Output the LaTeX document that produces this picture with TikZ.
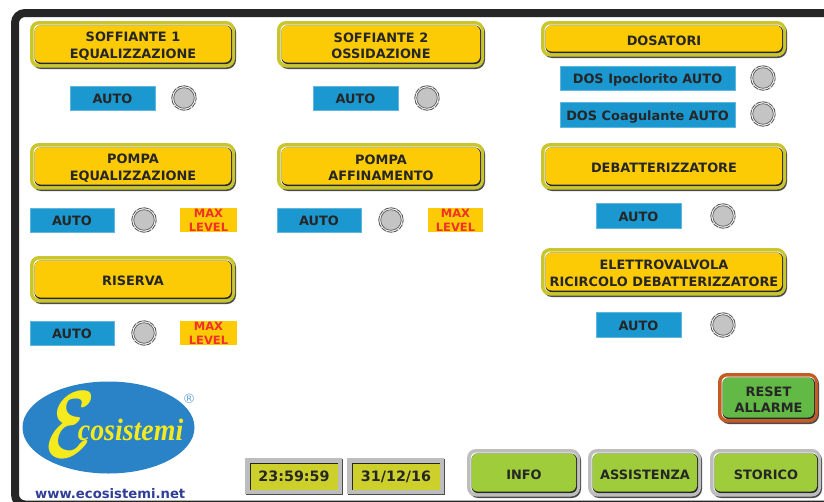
\documentclass[tikz,border=0pt]{standalone}
\usepackage{fontspec}
\usetikzlibrary{shapes.geometric}
\setmainfont{DejaVu Sans}
\newfontfamily\logofont{Liberation Serif}
\definecolor{btnyellow}{HTML}{FDCB06}
\definecolor{btnolive}{HTML}{C9C62C}
\definecolor{autoblue}{HTML}{1B98D0}
\definecolor{lampgrey}{HTML}{C4C4C4}
\definecolor{btngreen}{HTML}{9FCC3B}
\definecolor{resetgreen}{HTML}{62B946}
\definecolor{resetorange}{HTML}{C55A22}
\definecolor{clockyellow}{HTML}{CDD02B}
\definecolor{framegrey}{HTML}{262626}
\definecolor{logoblue}{HTML}{2A82C7}
\definecolor{logoyellow}{HTML}{F5EA1E}
\definecolor{webnavy}{HTML}{2F3E96}
\definecolor{maxred}{HTML}{F0302A}
\definecolor{rimgrey}{HTML}{BDBDBD}
\tikzset{
  x=1pt,y=-1pt,
  hmi/.style={font=\bfseries\fontsize{12.9}{16.5}\selectfont,align=center,text=black!85,inner sep=0pt},
  autobox/.style={font=\bfseries\fontsize{12.9}{16.5}\selectfont,text=black!85,inner sep=0pt,text height=11.5pt,text depth=0pt,fill=autoblue,draw=autoblue!70!white,line width=.5pt},
  maxbox/.style={fill=btnyellow,inner sep=0pt,align=center,text=maxred,font=\bfseries\fontsize{11.5}{14}\selectfont},
  lamp/.style={circle,minimum size=24.5pt,inner sep=0pt,fill=white,draw=black!65,line width=.9pt,
    postaction={draw=white,line width=.5pt,dash pattern=on 1.5pt off 5pt},
    path picture={\fill[lampgrey] (path picture bounding box.center) circle (10.3pt);
      \draw[black!60,line width=.8pt] (path picture bounding box.center) circle (10.3pt);}},
  clockbox/.style={font=\bfseries\fontsize{14.3}{16}\selectfont,text=black!85,inner sep=0pt}
}
% x1 y1 x2 y2 name text rim fill
\newcommand{\hmibutton}[8]{%
  \pgfmathsetmacro{\cxx}{(#1+#3)/2}\pgfmathsetmacro{\cyy}{(#2+#4)/2}%
  \fill[black!70,rounded corners=9pt] ({#1+2},{#2+2}) rectangle (#3,#4);
  \fill[#7,rounded corners=9pt] (#1,#2) rectangle ({#3-1},{#4-1.5});
  \fill[white,rounded corners=6pt] ({#1+3.5},{#2+3.5}) rectangle ({#3-4},{#4-5});
  \fill[black!85,rounded corners=6pt] ({#1+4.5},{#2+4.5}) rectangle ({#3-4},{#4-5});
  \fill[#8,rounded corners=6pt] ({#1+4.5},{#2+4.5}) rectangle ({#3-5},{#4-6.5});
  \node[hmi] (#5) at (\cxx,{\cyy+1}) {#6};
}
% x1 y1 x2 y2 name text style
\newcommand{\hmibox}[7]{%
  \pgfmathsetmacro{\wdd}{#3-#1}\pgfmathsetmacro{\htt}{#4-#2}%
  \node[#7,minimum width=\wdd pt,minimum height=\htt pt] (#5) at ({(#1+#3)/2},{(#2+#4)/2}) {#6};
}
\newcommand{\hmiclock}[6]{%
  \fill[black!70] ({#1+1},{#2+1}) rectangle (#3,#4);
  \fill[rimgrey] (#1,#2) rectangle ({#3-1},{#4-1});
  \fill[black!85] ({#1+5},{#2+5}) rectangle ({#3-5},{#4-5});
  \fill[clockyellow] ({#1+6},{#2+6}) rectangle ({#3-5},{#4-5});
  \node[clockbox] (#5) at ({(#1+#3)/2},{(#2+#4)/2}) {#6};
}
\begin{document}
\begin{tikzpicture}
\useasboundingbox (0,0) rectangle (824,501);
\fill[white] (0,0) rectangle (824,501);
\begin{scope}
\clip (0,0) rectangle (824,501);
\draw[framegrey,line width=8pt,rounded corners=10pt] (15,13) rectangle (900,504.5);
\end{scope}
\hmibutton{30}{21}{236}{69}{b1}{SOFFIANTE 1\\EQUALIZZAZIONE}{btnolive}{btnyellow}
\hmibutton{277}{21}{485}{69}{b2}{SOFFIANTE 2\\OSSIDAZIONE}{btnolive}{btnyellow}
\hmibutton{541}{21}{787}{58}{b3}{DOSATORI}{btnolive}{btnyellow}
\hmibutton{30}{143}{236}{191}{b4}{POMPA\\EQUALIZZAZIONE}{btnolive}{btnyellow}
\hmibutton{277}{143}{485}{191}{b5}{POMPA\\AFFINAMENTO}{btnolive}{btnyellow}
\hmibutton{541}{143}{787}{191}{b6}{DEBATTERIZZATORE}{btnolive}{btnyellow}
\hmibutton{30}{256}{236}{304}{b7}{RISERVA}{btnolive}{btnyellow}
\hmibutton{541}{248}{787}{297}{b8}{ELETTROVALVOLA\\RICIRCOLO DEBATTERIZZATORE}{btnolive}{btnyellow}
\hmibutton{718}{373}{819}{424}{reset}{RESET\\ALLARME}{resetorange}{resetgreen}
\hmibutton{467}{449}{581}{498}{info}{INFO}{rimgrey}{btngreen}
\hmibutton{588}{449}{702}{498}{assist}{ASSISTENZA}{rimgrey}{btngreen}
\hmibutton{710}{449}{822}{498}{stor}{STORICO}{rimgrey}{btngreen}
\hmibox{70}{86}{155}{110}{a1}{AUTO}{autobox}
\hmibox{313}{86}{398}{110}{a2}{AUTO}{autobox}
\hmibox{560}{66}{735}{90}{a3}{DOS Ipoclorito AUTO}{autobox}
\hmibox{560}{102}{735}{127}{a4}{DOS Coagulante AUTO}{autobox}
\hmibox{30}{208}{114}{232}{a5}{AUTO}{autobox}
\hmibox{277}{208}{361}{232}{a6}{AUTO}{autobox}
\hmibox{596}{203}{681}{228}{a7}{AUTO}{autobox}
\hmibox{30}{321}{114}{345}{a8}{AUTO}{autobox}
\hmibox{596}{312}{681}{337}{a9}{AUTO}{autobox}
\hmibox{180}{208}{237}{232}{m1}{MAX\\LEVEL}{maxbox}
\hmibox{428}{208}{483}{232}{m2}{MAX\\LEVEL}{maxbox}
\hmibox{180}{321}{237}{345}{m3}{MAX\\LEVEL}{maxbox}
\node[lamp] (l1) at (184,98) {};
\node[lamp] (l2) at (427,98) {};
\node[lamp] (l3) at (763,78) {};
\node[lamp] (l4) at (763,114) {};
\node[lamp] (l5) at (144,220) {};
\node[lamp] (l6) at (391,220) {};
\node[lamp] (l7) at (723,216) {};
\node[lamp] (l8) at (144,333) {};
\node[lamp] (l9) at (723,325) {};
\hmiclock{245}{458}{343}{495}{time}{23:59:59}
\hmiclock{347}{458}{445}{495}{date}{31/12/16}
\node[ellipse,fill=logoblue,minimum width=172pt,minimum height=92pt,inner sep=0pt] (logo) at (108.5,427.5) {};
\node[text=logoyellow,inner sep=0pt,anchor=base west] (logotext) at (46,457)
  {\scalebox{7.2}[9.5]{\boldmath$\mathcal{E}$}\kern-18pt\raisebox{17pt}{\scalebox{0.9}[1]{\logofont\itshape\bfseries\fontsize{31}{31}\selectfont cosistemi}}};
\node[text=logoblue!70,inner sep=0pt,font=\fontsize{13}{13}\selectfont] (reg) at (189,399) {®};
\node[text=webnavy,inner sep=0pt,font=\bfseries\fontsize{13.2}{13.2}\selectfont,anchor=base west] (web) at (35,498) {www.ecosistemi.net};
\end{tikzpicture}
\end{document}
